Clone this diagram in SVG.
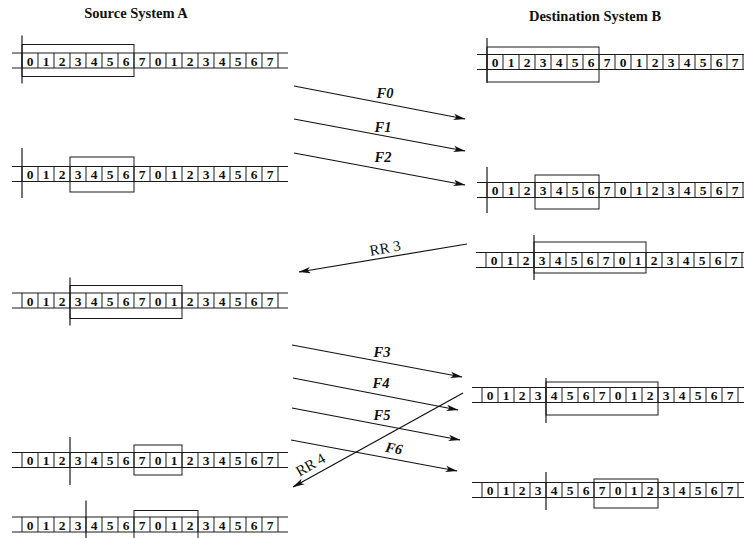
<svg xmlns="http://www.w3.org/2000/svg" xmlns:xlink="http://www.w3.org/1999/xlink" width="744" height="538" viewBox="0 0 744 538">
<style>
.ln{fill:none;stroke:#1a1a1a;stroke-width:1}
.win{fill:none;stroke:#1a1a1a;stroke-width:1}
.mk{stroke:#1a1a1a;stroke-width:1.2}
.dg{font-family:"Liberation Serif","Times New Roman",serif;font-size:13.5px;font-weight:bold;fill:#111;text-anchor:middle}
.hd{font-family:"Liberation Serif","Times New Roman",serif;font-size:14.5px;font-weight:bold;fill:#111;text-anchor:middle}
.fl{font-family:"Liberation Serif","Times New Roman",serif;font-size:14.5px;font-weight:bold;font-style:italic;fill:#111;text-anchor:middle}
.rl{font-family:"Liberation Serif","Times New Roman",serif;font-size:15px;fill:#111;text-anchor:middle}
.ar{fill:none;stroke:#111;stroke-width:1.2;marker-end:url(#ah)}
</style>
<defs>
<marker id="ah" viewBox="0 0 12 8" refX="11.5" refY="4" markerWidth="12" markerHeight="8" markerUnits="userSpaceOnUse" orient="auto">
<path d="M0,0.8 L12,4 L0,7.2 L3,4 Z" fill="#111"/>
</marker>
<path id="strip" class="ln" d="M-10,-7.5 H266 M-10,7.5 H266 M0,-7.5 V7.5 M16,-7.5 V7.5 M32,-7.5 V7.5 M48,-7.5 V7.5 M64,-7.5 V7.5 M80,-7.5 V7.5 M96,-7.5 V7.5 M112,-7.5 V7.5 M128,-7.5 V7.5 M144,-7.5 V7.5 M160,-7.5 V7.5 M176,-7.5 V7.5 M192,-7.5 V7.5 M208,-7.5 V7.5 M224,-7.5 V7.5 M240,-7.5 V7.5 M256,-7.5 V7.5"/>
</defs>
<rect width="744" height="538" fill="#fff"/>

<text class="hd" x="136" y="18">Source System A</text>
<text class="hd" x="595" y="21">Destination System B</text>

<!-- Source side -->
<g id="srcA1" transform="translate(22,60.5)">
<use xlink:href="#strip"/>
<rect class="win" x="0" y="-16" width="112" height="32"/>
<line class="mk" x1="0" y1="-25" x2="0" y2="23"/>
<text class="dg" x="8 24 40 56 72 88 104 120 136 152 168 184 200 216 232 248" y="5">0123456701234567</text>
</g>
<g id="srcA2" transform="translate(22,174)">
<use xlink:href="#strip"/>
<rect class="win" x="48" y="-17" width="64" height="35"/>
<line class="mk" x1="0" y1="-26" x2="0" y2="24"/>
<text class="dg" x="8 24 40 56 72 88 104 120 136 152 168 184 200 216 232 248" y="5">0123456701234567</text>
</g>
<g id="srcA3" transform="translate(22,300.5)">
<use xlink:href="#strip"/>
<rect class="win" x="48" y="-15" width="112" height="33"/>
<line class="mk" x1="48" y1="-23" x2="48" y2="25"/>
<text class="dg" x="8 24 40 56 72 88 104 120 136 152 168 184 200 216 232 248" y="5">0123456701234567</text>
</g>
<g id="srcA4" transform="translate(22,460)">
<use xlink:href="#strip"/>
<rect class="win" x="112" y="-15" width="48" height="30"/>
<line class="mk" x1="48" y1="-23" x2="48" y2="25"/>
<text class="dg" x="8 24 40 56 72 88 104 120 136 152 168 184 200 216 232 248" y="5">0123456701234567</text>
</g>
<g id="srcA5" transform="translate(22,524.5)">
<use xlink:href="#strip"/>
<rect class="win" x="112" y="-14" width="64" height="32"/>
<line class="mk" x1="64" y1="-24" x2="64" y2="16"/>
<text class="dg" x="8 24 40 56 72 88 104 120 136 152 168 184 200 216 232 248" y="5">0123456701234567</text>
</g>

<!-- Destination side -->
<g id="dstB1" transform="translate(487,62)">
<use xlink:href="#strip"/>
<rect class="win" x="0" y="-15" width="112" height="35"/>
<line class="mk" x1="0" y1="-24" x2="0" y2="21"/>
<text class="dg" x="8 24 40 56 72 88 104 120 136 152 168 184 200 216 232 248" y="5">0123456701234567</text>
</g>
<g id="dstB2" transform="translate(487,190)">
<use xlink:href="#strip"/>
<rect class="win" x="48" y="-15" width="64" height="34"/>
<line class="mk" x1="0" y1="-23" x2="0" y2="23"/>
<text class="dg" x="8 24 40 56 72 88 104 120 136 152 168 184 200 216 232 248" y="5">0123456701234567</text>
</g>
<g id="dstB3" transform="translate(486,260)">
<use xlink:href="#strip"/>
<rect class="win" x="48" y="-18" width="112" height="31"/>
<line class="mk" x1="48" y1="-25" x2="48" y2="20"/>
<text class="dg" x="8 24 40 56 72 88 104 120 136 152 168 184 200 216 232 248" y="5">0123456701234567</text>
</g>
<g id="dstB4" transform="translate(482,395)">
<use xlink:href="#strip"/>
<rect class="win" x="64" y="-13" width="112" height="33"/>
<line class="mk" x1="64" y1="-17" x2="64" y2="28"/>
<text class="dg" x="8 24 40 56 72 88 104 120 136 152 168 184 200 216 232 248" y="5">0123456701234567</text>
</g>
<g id="dstB5" transform="translate(482,490)">
<use xlink:href="#strip"/>
<rect class="win" x="112" y="-11" width="64" height="29"/>
<line class="mk" x1="64" y1="-18" x2="64" y2="20"/>
<text class="dg" x="8 24 40 56 72 88 104 120 136 152 168 184 200 216 232 248" y="5">0123456701234567</text>
</g>

<!-- Connectors -->
<g id="connectors">
<line class="ar" x1="294" y1="86" x2="465" y2="119"/>
<line class="ar" x1="294" y1="119" x2="465" y2="151"/>
<line class="ar" x1="294" y1="153" x2="465" y2="185"/>
<line class="ar" x1="467" y1="244" x2="299" y2="272"/>
<line class="ar" x1="292" y1="345" x2="462" y2="377"/>
<line class="ar" x1="293" y1="378" x2="458" y2="410"/>
<line class="ar" x1="292" y1="408" x2="460" y2="440"/>
<line class="ar" x1="291" y1="440" x2="457" y2="471"/>
<line class="ar" x1="463" y1="393" x2="293" y2="487"/>
<text class="fl" x="385" y="98">F0</text>
<text class="fl" x="383" y="132">F1</text>
<text class="fl" x="383" y="162">F2</text>
<text class="rl" transform="translate(386,253) rotate(-10)">RR 3</text>
<text class="fl" x="382" y="357">F3</text>
<text class="fl" x="381" y="388">F4</text>
<text class="fl" x="382" y="420">F5</text>
<text class="fl" transform="translate(393,453) rotate(11)">F6</text>
<text class="rl" transform="translate(313,469) rotate(-30)">RR 4</text>
</g>
</svg>
